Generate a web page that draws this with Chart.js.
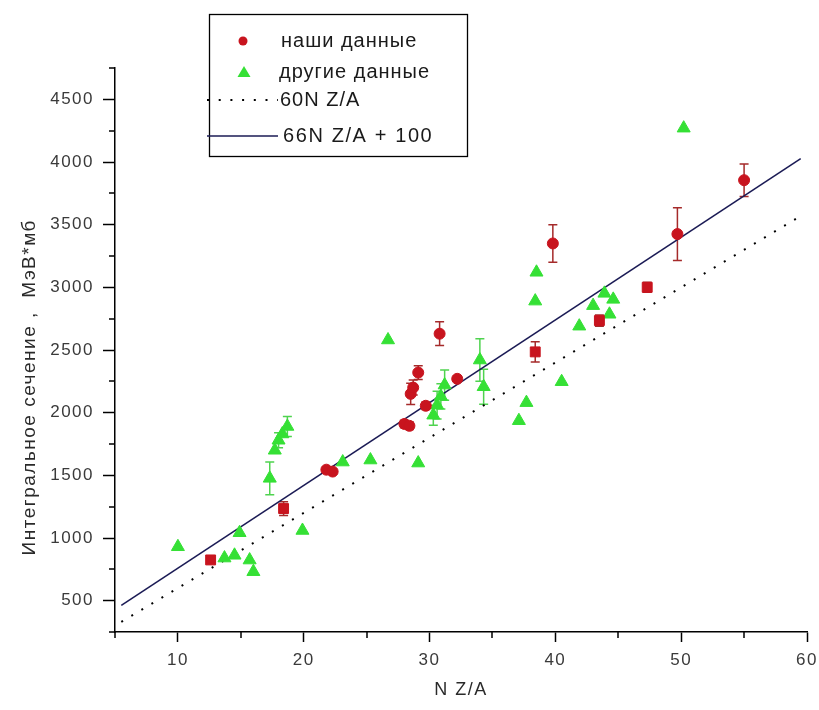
<!DOCTYPE html>
<html><head><meta charset="utf-8">
<script src="https://cdn.jsdelivr.net/npm/chart.js@4.4.1/dist/chart.umd.min.js"></script>
<style>html,body{margin:0;padding:0;background:#fff}canvas{display:block}</style>
</head><body>
<canvas id="c" width="819" height="710"></canvas>
<script>
// ---- data ----
// "наши данные" – round markers
const ourCircleX   = [21.8, 22.3, 28.0, 28.4, 28.5, 28.7, 29.1, 29.7, 30.8, 32.2, 39.8, 49.7, 55.0];
const ourCircleY   = [1545, 1530, 1910, 1895, 2150, 2200, 2320, 2055, 2630, 2270, 3350, 3425, 3855];
const ourCircleErr = [20, 20, 30, 30, 85, 60, 55, 30, 95, 20, 150, 210, 130];
// "наши данные" – square markers
const ourSquareX   = [12.6, 18.4, 38.4, 43.5, 47.3];
const ourSquareY   = [825, 1235, 2485, 2735, 3000];
const ourSquareErr = [20, 55, 80, 45, 40];
// "другие данные"
const otherX   = [10.0, 13.7, 14.5, 14.9, 15.7, 16.0, 17.3, 17.7, 18.0, 18.3, 18.7, 19.9, 23.1, 25.3, 26.7, 29.1,
                  30.3, 30.6, 30.9, 31.2, 34.0, 34.3, 37.1, 37.7, 38.4, 38.5, 40.5, 41.9, 43.0, 43.9, 44.3, 44.6, 50.2];
const otherY   = [930, 840, 862, 1042, 824, 731, 1476, 1700, 1780, 1830, 1890, 1060, 1606, 1622, 2580, 1598,
                  1980, 2060, 2130, 2220, 2420, 2207, 1936, 2080, 2890, 3120, 2247, 2690, 2854, 2952, 2785, 2904, 4270];
const otherErr = [0, 0, 0, 0, 0, 0, 130, 0, 60, 0, 80, 0, 0, 0, 0, 0,
                  80, 110, 100, 120, 170, 140, 0, 0, 0, 0, 0, 0, 0, 0, 0, 0, 0];
// reference lines (end points)
const lineX   = [5.5, 59.5];
const line60Y = [330, 3570];
const line66Y = [463, 4027];
// tick labels
const xTickLabels = [10, 20, 30, 40, 50, 60];
const yTickLabels = [500, 1000, 1500, 2000, 2500, 3000, 3500, 4000, 4500];

const pts = (xs, ys) => xs.map((x, i) => ({x: x, y: ys[i]}));
const FONT = "'Liberation Sans', Arial, sans-serif";
const RED = '#c8141e', GREEN = '#35e035', NAVY = '#1b1b55';

const errorBarPlugin = {
  id: 'errorBars',
  beforeDatasetsDraw(chart) {
    const ctx = chart.ctx, xs = chart.scales.x, ys = chart.scales.y;
    chart.data.datasets.forEach((ds) => {
      if (!ds.errorBars) return;
      ctx.save();
      ctx.strokeStyle = ds.errorColor; ctx.lineWidth = 1.5;
      ds.data.forEach((p, i) => {
        const e = ds.errorBars[i];
        if (!e) return;
        const px = xs.getPixelForValue(p.x);
        const t = ys.getPixelForValue(p.y + e), b = ys.getPixelForValue(p.y - e);
        ctx.beginPath();
        ctx.moveTo(px, t); ctx.lineTo(px, b);
        ctx.moveTo(px - 4.5, t); ctx.lineTo(px + 4.5, t);
        ctx.moveTo(px - 4.5, b); ctx.lineTo(px + 4.5, b);
        ctx.stroke();
      });
      ctx.restore();
    });
  }
};

const spacingPlugin = {
  id: 'spacing',
  beforeDraw(chart) { chart.ctx.letterSpacing = '1.5px'; }
};

const minorTickPlugin = {
  id: 'minorTicks',
  afterDraw(chart) {
    const ctx = chart.ctx, xs = chart.scales.x, ys = chart.scales.y, a = chart.chartArea;
    ctx.save();
    ctx.strokeStyle = '#000'; ctx.lineWidth = 1.5;
    ctx.beginPath();
    for (let v = 5; v < 60; v += 10) {
      const px = Math.round(xs.getPixelForValue(v));
      ctx.moveTo(px, a.bottom); ctx.lineTo(px, a.bottom + 6);
    }
    for (let v = 250; v <= 4750; v += 500) {
      const py = Math.round(ys.getPixelForValue(v));
      ctx.moveTo(a.left, py); ctx.lineTo(a.left - 6, py);
    }
    ctx.stroke();
    ctx.restore();
  }
};

const legendPlugin = {
  id: 'boxLegend',
  afterDraw(chart) {
    const ctx = chart.ctx, ds = chart.data.datasets;
    ctx.save();
    ctx.letterSpacing = '1px';
    ctx.strokeStyle = '#000'; ctx.lineWidth = 1.3;
    ctx.strokeRect(209.5, 14.5, 258, 142);
    ctx.font = '20px ' + FONT; ctx.fillStyle = '#1a1a1a'; ctx.textBaseline = 'middle';
    // row 1
    ctx.fillStyle = RED; ctx.beginPath(); ctx.arc(243, 41, 4.5, 0, Math.PI * 2); ctx.fill();
    ctx.fillStyle = '#1a1a1a'; ctx.fillText(ds[0].label, 281, 41);
    // row 2
    ctx.fillStyle = GREEN; ctx.beginPath();
    ctx.moveTo(244, 66); ctx.lineTo(250.5, 77); ctx.lineTo(237.5, 77); ctx.closePath(); ctx.fill();
    ctx.fillStyle = '#1a1a1a'; ctx.fillText(ds[2].label, 279, 72);
    // row 3
    ctx.strokeStyle = '#000'; ctx.lineWidth = 2; ctx.setLineDash([2, 9.7]);
    ctx.beginPath(); ctx.moveTo(207, 100); ctx.lineTo(278, 100); ctx.stroke();
    ctx.fillText(ds[3].label, 280, 100);
    // row 4
    ctx.setLineDash([]); ctx.strokeStyle = NAVY; ctx.lineWidth = 1.5;
    ctx.beginPath(); ctx.moveTo(207, 136); ctx.lineTo(278, 136); ctx.stroke();
    ctx.letterSpacing = '1.6px';
    ctx.fillText(ds[4].label, 283, 136);
    ctx.restore();
  }
};

new Chart(document.getElementById('c'), {
  type: 'scatter',
  data: {
    datasets: [
      { label: 'наши данные', data: pts(ourCircleX, ourCircleY), errorBars: ourCircleErr, errorColor: '#a52a2a',
        pointStyle: 'circle', pointRadius: 5.5, backgroundColor: RED, borderColor: RED, borderWidth: 1 },
      { label: 'наши данные (кв.)', data: pts(ourSquareX, ourSquareY), errorBars: ourSquareErr, errorColor: '#a52a2a',
        pointStyle: 'rect', pointRadius: 7, backgroundColor: RED, borderColor: RED, borderWidth: 1 },
      { label: 'другие данные', data: pts(otherX, otherY), errorBars: otherErr, errorColor: '#4fd34f',
        pointStyle: 'triangle', pointRadius: 7.5, backgroundColor: GREEN, borderColor: GREEN, borderWidth: 1 },
      { label: '60N Z/A', data: pts(lineX, line60Y), showLine: true, pointRadius: 0,
        borderColor: '#000', borderWidth: 2, borderDash: [2, 9.7] },
      { label: '66N Z/A + 100', data: pts(lineX, line66Y), showLine: true, pointRadius: 0,
        borderColor: NAVY, borderWidth: 1.6 }
    ]
  },
  options: {
    responsive: false,
    animation: false,
    devicePixelRatio: 1,
    layout: { padding: { top: 68, right: 12, left: 0, bottom: 0 } },
    plugins: { legend: { display: false }, tooltip: { enabled: false } },
    scales: {
      x: {
        type: 'linear', min: 5, max: 60,
        afterFit: s => { s.height = 78; s.paddingLeft = 0; s.paddingRight = 0; },
        border: { display: true, color: '#000', width: 1.5 },
        grid: { drawOnChartArea: false, tickLength: 10, tickWidth: 1.5,
                tickColor: c => (c.tick && xTickLabels.includes(c.tick.value)) ? '#000' : 'rgba(0,0,0,0)' },
        ticks: { stepSize: 5, autoSkip: false, maxRotation: 0, padding: 8, color: '#3a3a3a',
                 font: { family: FONT, size: 17 },
                 callback: v => xTickLabels.includes(v) ? String(v) : '' },
        title: { display: true, text: 'N Z/A', color: '#2a2a2a', font: { family: FONT, size: 18 },
                 padding: { top: 0, bottom: 9 } }
      },
      y: {
        type: 'linear', min: 250, max: 4750,
        afterFit: s => { s.width = 115; s.paddingTop = 0; s.paddingBottom = 0; },
        border: { display: true, color: '#000', width: 1.5 },
        grid: { drawOnChartArea: false, tickLength: 12, tickWidth: 1.5,
                tickColor: c => (c.tick && yTickLabels.includes(c.tick.value)) ? '#000' : 'rgba(0,0,0,0)' },
        ticks: { stepSize: 250, autoSkip: false, padding: 9, color: '#3a3a3a',
                 font: { family: FONT, size: 17 },
                 callback: v => yTickLabels.includes(v) ? String(v) : '' },
        title: { display: true, text: 'Интегральное сечение ,  МэВ*мб' + '\u00a0'.repeat(11),
                 color: '#2a2a2a', font: { family: FONT, size: 19 },
                 padding: { top: 18, bottom: 0 } }
      }
    }
  },
  plugins: [spacingPlugin, errorBarPlugin, minorTickPlugin, legendPlugin]
});
</script>
</body></html>
